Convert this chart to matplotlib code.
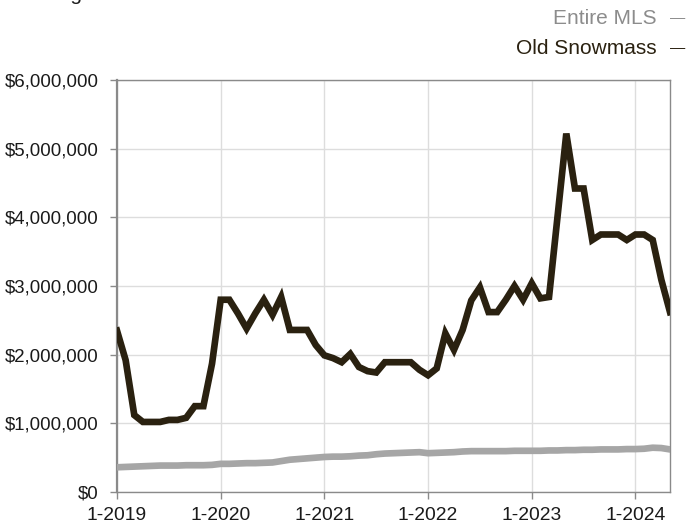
import matplotlib
matplotlib.use("Agg")
import matplotlib.pyplot as plt
import numpy as np
from matplotlib.ticker import FuncFormatter

plt.rcParams['font.family'] = ['Liberation Sans', 'DejaVu Sans']

months = [f"{(i % 12) + 1}-{2019 + i // 12}" for i in range(65)]

old_snowmass = [2.35, 1.92, 1.12, 1.02, 1.02, 1.02, 1.05, 1.05, 1.08, 1.25, 1.25, 1.87,
                2.80, 2.80, 2.60, 2.38, 2.60, 2.80, 2.58, 2.84, 2.36, 2.36, 2.36, 2.14,
                1.99, 1.95, 1.89, 2.01, 1.82, 1.76, 1.74, 1.89, 1.89, 1.89, 1.89, 1.78,
                1.70, 1.80, 2.31, 2.07, 2.36, 2.79, 2.98, 2.62, 2.62, 2.80, 3.00, 2.80,
                3.04, 2.82, 2.84, 4.03, 5.22, 4.42, 4.42, 3.67, 3.75, 3.75, 3.75, 3.67,
                3.75, 3.75, 3.67, 3.09, 2.62]
entire_mls = [0.36, 0.365, 0.37, 0.375, 0.38, 0.385, 0.385, 0.385, 0.39, 0.39, 0.39, 0.395,
              0.41, 0.41, 0.415, 0.42, 0.42, 0.425, 0.43, 0.45, 0.47, 0.48, 0.49, 0.50,
              0.51, 0.515, 0.515, 0.52, 0.53, 0.535, 0.55, 0.56, 0.565, 0.57, 0.575, 0.58,
              0.565, 0.57, 0.575, 0.58, 0.59, 0.595, 0.595, 0.595, 0.595, 0.595, 0.60, 0.60,
              0.60, 0.60, 0.605, 0.605, 0.61, 0.61, 0.615, 0.615, 0.62, 0.62, 0.62, 0.625,
              0.625, 0.63, 0.645, 0.64, 0.62]
tick_labels = ["1-2019", "1-2020", "1-2021", "1-2022", "1-2023", "1-2024"]

x = np.arange(len(months))
dark = "#2a2110"
gray = "#a6a6a6"

fig = plt.figure(figsize=(6.86, 5.25), dpi=100)
ax = fig.add_axes([117/686, 1 - 492/525, (670-117)/686, (492-80)/525])

ax.plot(x, np.array(entire_mls) * 1e6, color=gray, lw=4.8, solid_joinstyle='round', zorder=3)
ax.plot(x, np.array(old_snowmass) * 1e6, color=dark, lw=4.8, solid_joinstyle='miter', zorder=4)

ax.set_xlim(0, len(months) - 1)
ax.set_ylim(0, 6e6)
ax.set_yticks(np.arange(0, 6.01e6, 1e6))
ax.yaxis.set_major_formatter(FuncFormatter(lambda v, p: f"${v:,.0f}"))
ax.set_xticks([months.index(t) for t in tick_labels])
ax.set_xticklabels(tick_labels)
ax.grid(True, color="#dddddd", lw=1)
ax.set_axisbelow(True)
for s in ax.spines.values():
    s.set_color("#8a8a8a")
    s.set_linewidth(1)
ax.spines['left'].set_linewidth(1.6)
ax.tick_params(axis='both', colors="#8a8a8a", length=5, width=1, labelcolor="#1a1a1a")
ax.tick_params(axis='y', labelsize=13.4, pad=8)
ax.tick_params(axis='x', labelsize=13.9, pad=6)

fig.text(18/686, 1.0, "Rolling 12 month calculation", fontsize=15, color="#1a1a1a",
         va='baseline', ha='left')

fig.text(657/686, 1 - 18/525, "Entire MLS", fontsize=15, color="#8c8c8c", ha='right', va='center')
fig.text(670/686, 1 - 18/525, "—", fontsize=11, color="#8c8c8c", ha='left', va='center')
fig.text(657/686, 1 - 48/525, "Old Snowmass", fontsize=15, color=dark, ha='right', va='center')
fig.text(670/686, 1 - 48/525, "—", fontsize=11, color=dark, ha='left', va='center')

fig.savefig("out.png", dpi=100)
